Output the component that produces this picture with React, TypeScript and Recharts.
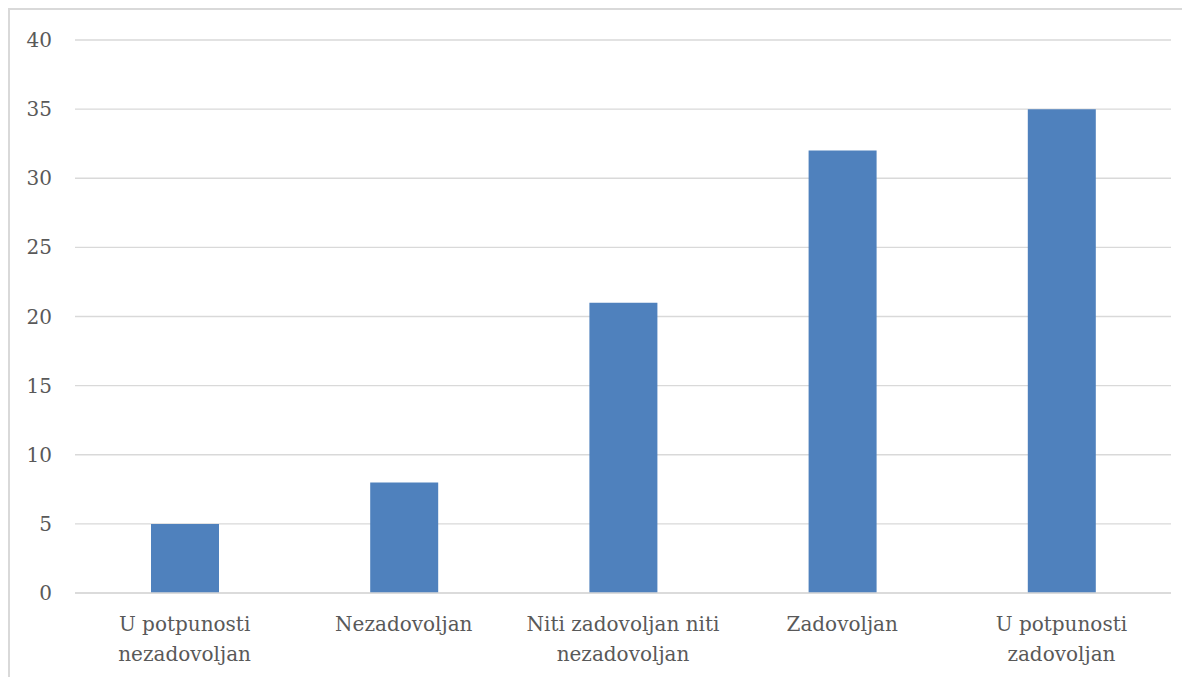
import React from "react";
import { BarChart, Bar, XAxis, YAxis, CartesianGrid } from "recharts";

const categories = [
  "U potpunosti nezadovoljan",
  "Nezadovoljan",
  "Niti zadovoljan niti nezadovoljan",
  "Zadovoljan",
  "U potpunosti zadovoljan",
];
const values = [5, 8, 21, 32, 35];
const yTicks = [0, 5, 10, 15, 20, 25, 30, 35, 40];
const labelLines: Record<string, string[]> = {
  "U potpunosti nezadovoljan": ["U potpunosti", "nezadovoljan"],
  "Nezadovoljan": ["Nezadovoljan"],
  "Niti zadovoljan niti nezadovoljan": ["Niti zadovoljan niti", "nezadovoljan"],
  "Zadovoljan": ["Zadovoljan"],
  "U potpunosti zadovoljan": ["U potpunosti", "zadovoljan"],
};

const data = categories.map((c, i) => ({ name: c, value: values[i] }));

const FONT = "'DejaVu Serif', serif";
const TEXT = "#595959";

const XTick = (props: any) => {
  const { x, y, payload } = props;
  const lines = labelLines[payload.value] || [payload.value];
  return (
    <g transform={`translate(${x},${y})`}>
      <text textAnchor="middle" fill={TEXT} fontFamily={FONT} fontSize={20}>
        {lines.map((l, i) => (
          <tspan key={i} x={0} dy={i === 0 ? 30 : 30}>
            {l}
          </tspan>
        ))}
      </text>
    </g>
  );
};

export default function App() {
  return (
    <div
      style={{
        borderTop: "2px solid #d9d9d9",
        borderLeft: "2px solid #d9d9d9",
        width: 1190,
        height: 680,
        boxSizing: "border-box",
        background: "#fff",
      }}
    >
      <BarChart
        width={1180}
        height={667}
        data={data}
        margin={{ top: 30, right: 19, bottom: 0, left: 0 }}
        barSize={68}
      >
        <CartesianGrid vertical={false} stroke="#d9d9d9" strokeWidth={1.3} />
        <XAxis
          dataKey="name"
          height={84}
          interval={0}
          tickLine={false}
          axisLine={{ stroke: "#d9d9d9", strokeWidth: 1.3 }}
          tick={<XTick />}
        />
        <YAxis
          width={65}
          domain={[0, 40]}
          ticks={yTicks}
          tickLine={false}
          axisLine={false}
          tickSize={0}
          tickMargin={23}
          tick={{ fill: TEXT, fontFamily: FONT, fontSize: 20 }}
        />
        <Bar dataKey="value" fill="#4F81BD" isAnimationActive={false} />
      </BarChart>
    </div>
  );
}
